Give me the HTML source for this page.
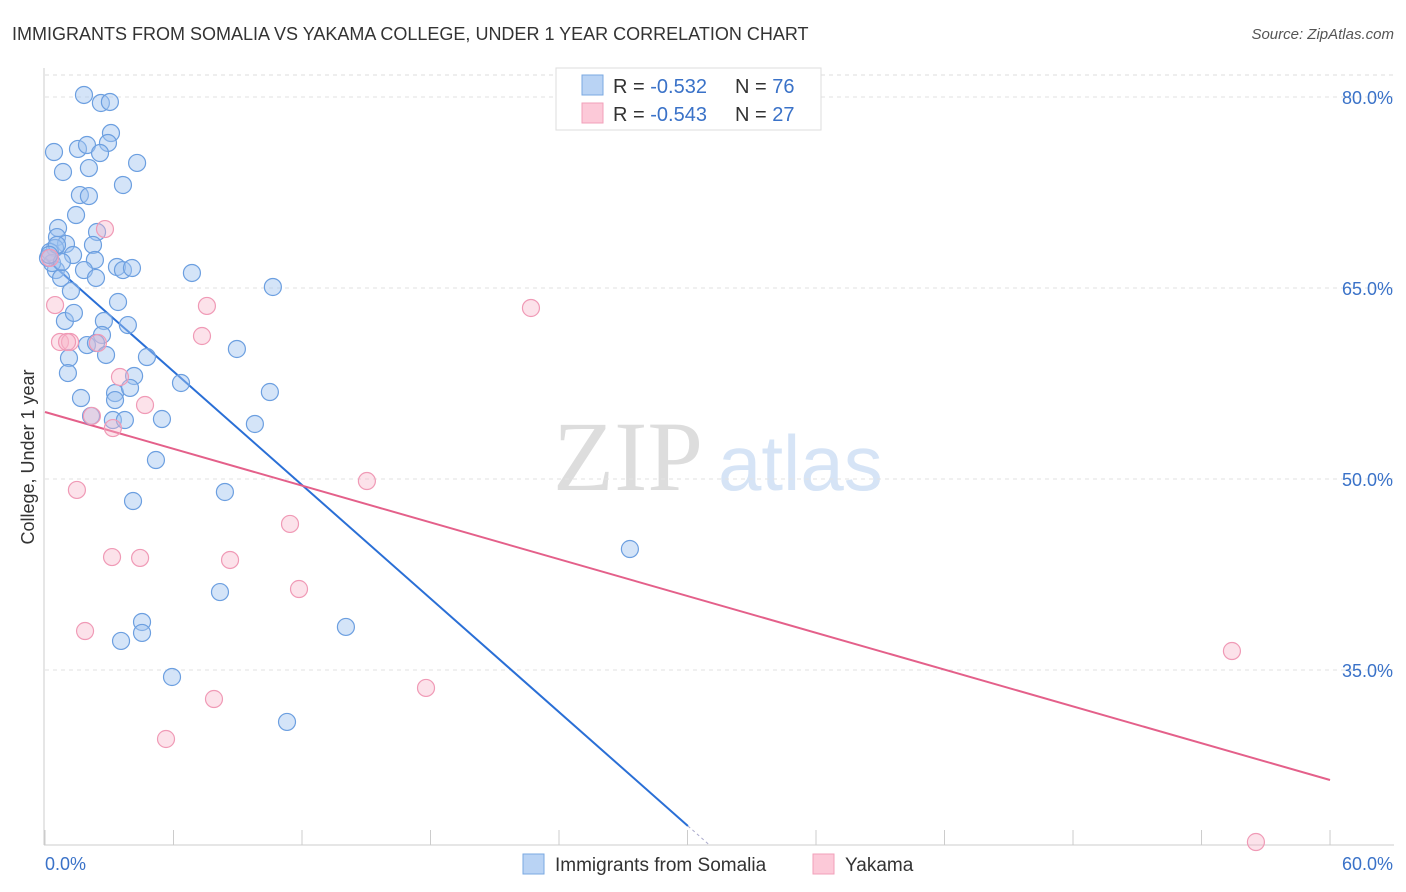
<!DOCTYPE html>
<html><head><meta charset="utf-8"><style>
body{margin:0;background:#fff;font-family:"Liberation Sans",sans-serif}
</style></head><body>
<svg id="chart" width="1406" height="892" xmlns="http://www.w3.org/2000/svg" style="display:block">
<text x="12" y="40" font-size="18" fill="#333">IMMIGRANTS FROM SOMALIA VS YAKAMA COLLEGE, UNDER 1 YEAR CORRELATION CHART</text>
<text x="1394" y="39" font-size="15" fill="#555" text-anchor="end" font-style="italic">Source: ZipAtlas.com</text>
<g>
<text x="553" y="490" font-family="Liberation Serif,serif" font-size="100" fill="#ddd">ZIP</text>
<text x="718" y="490" font-size="78" fill="#d6e4f6">atlas</text>
</g>
<g id="grid"></g>
<g id="axes"></g>
<g id="trends"></g>
<g id="points"></g>
<text transform="translate(34,457) rotate(-90)" font-size="18" fill="#333" text-anchor="middle">College, Under 1 year</text>
<g>
<rect x="556" y="68" width="265" height="62" fill="#fff" stroke="#ddd"/>
<rect x="582" y="75" width="21" height="20" fill="#b9d3f4" stroke="#7aa8e2"/>
<rect x="582" y="103" width="21" height="20" fill="#fcc9d8" stroke="#f2a0ba"/>
<text x="613" y="93" font-size="20" fill="#333">R = <tspan fill="#3a72c8">-0.532</tspan><tspan x="735">N = </tspan><tspan fill="#3a72c8">76</tspan></text>
<text x="613" y="121" font-size="20" fill="#333">R = <tspan fill="#3a72c8">-0.543</tspan><tspan x="735">N = </tspan><tspan fill="#3a72c8">27</tspan></text>
</g>
<g>
<rect x="523" y="854" width="21" height="20" fill="#b9d3f4" stroke="#7aa8e2"/>
<text x="555" y="871" font-size="19" fill="#333">Immigrants from Somalia</text>
<rect x="813" y="854" width="21" height="20" fill="#fcc9d8" stroke="#f2a0ba"/>
<text x="845" y="871" font-size="19" fill="#333">Yakama</text>
</g>
</svg>
<script>
const blueX=[1.82,2.61,3.03,3.08,2.94,0.42,1.54,1.96,2.57,4.30,0.84,2.05,3.64,1.63,2.05,1.45,0.61,2.43,0.56,0.98,2.24,0.47,0.23,1.31,2.33,0.51,1.82,3.36,3.64,4.06,0.75,2.38,6.86,1.21,10.64,3.41,0.93,1.35,2.75,3.87,2.66,1.96,2.38,8.96,1.12,2.85,4.76,1.07,4.16,6.35,1.68,3.27,3.97,10.50,3.27,2.15,3.17,3.73,5.46,9.80,5.18,8.40,4.11,27.31,8.17,4.53,4.53,3.55,14.05,5.93,11.30,0.33,0.14,0.79,0.56,0.2];
const blueY=[80.16,79.53,79.61,77.17,76.39,75.68,75.92,76.23,75.60,74.82,74.11,74.42,73.09,72.30,72.22,70.73,69.71,69.40,69.00,68.46,68.38,68.14,67.83,67.59,67.20,66.41,66.41,66.65,66.41,66.57,65.79,65.79,66.18,64.76,65.08,63.90,62.41,63.04,62.41,62.09,61.31,60.52,60.68,60.21,59.50,59.74,59.58,58.32,58.09,57.54,56.36,56.75,57.15,56.83,56.20,54.95,54.63,54.63,54.71,54.32,51.49,48.98,48.27,44.50,41.12,38.77,37.91,37.28,38.38,34.45,30.92,66.96,67.36,67.04,68.38,67.6];
const pinkX=[2.80,0.47,7.56,22.69,7.33,0.70,1.17,2.47,3.50,4.67,2.19,3.17,1.49,15.03,11.44,3.13,4.44,8.64,11.86,1.87,7.89,17.79,5.65,55.42,56.54,1.03,0.23];
const pinkY=[69.63,63.66,63.59,63.43,61.23,60.76,60.76,60.68,58.01,55.81,54.95,54.00,49.14,49.84,46.47,43.87,43.80,43.64,41.36,38.06,32.72,33.59,29.58,36.49,21.49,60.76,67.36];
const yTicks=[80,65,50,35];
const yTickLabels=["80.0%","65.0%","50.0%","35.0%"];
const xTicks=[0,6,12,18,24,30,36,42,48,54,60];
const blueTrend=[67.36,-1.486];
const pinkTrend=[55.26,-0.4817];
const NS="http://www.w3.org/2000/svg";
const X=v=>45+v*21.417, Y=v=>97+(80-v)*12.733;
function mk(tag,attrs,parent){const e=document.createElementNS(NS,tag);for(const k in attrs)e.setAttribute(k,attrs[k]);document.getElementById(parent).appendChild(e);return e;}
const topLine=mk('line',{x1:45,x2:1394,y1:75,y2:75,stroke:'#ddd','stroke-dasharray':'4,4'},'grid');


yTicks.forEach((t,i)=>{
 const l=mk('line',{x1:45,x2:1394,y1:Y(t),y2:Y(t),stroke:'#e2e2e2','stroke-dasharray':'4,4'},'grid');
 
 
 const tx=mk('text',{x:1393,y:Y(t)+7,'font-size':18,fill:'#3a72c8','text-anchor':'end'},'axes');
 tx.textContent=yTickLabels[i];
 
 
});
const ya=mk('line',{x1:44,x2:44,y1:68,y2:845,stroke:'#ccc'},'axes');


const xa=mk('line',{x1:44,x2:1394,y1:845,y2:845,stroke:'#ccc'},'axes');


xTicks.forEach(t=>{
 const l=mk('line',{x1:X(t),x2:X(t),y1:830,y2:845,stroke:'#ccc'},'axes');
 
 
});
const xl0=mk('text',{x:45,y:870,'font-size':18,fill:'#3a72c8'},'axes');xl0.textContent='0.0%';


const xl1=mk('text',{x:1393,y:870,'font-size':18,fill:'#3a72c8','text-anchor':'end'},'axes');xl1.textContent='60.0%';


blueX.forEach((x,i)=>{
 const c=mk('circle',{cx:X(x),cy:Y(blueY[i]),r:8.5,fill:'rgba(160,196,240,0.45)',stroke:'#6c9fe0','stroke-width':1.2},'points');
 
 
});
pinkX.forEach((x,i)=>{
 const c=mk('circle',{cx:X(x),cy:Y(pinkY[i]),r:8.5,fill:'rgba(248,182,202,0.4)',stroke:'#f09ab6','stroke-width':1.2},'points');
 
 
});
const bEnd=30.02, bDash=31.05;
const bl=mk('line',{x1:X(0),y1:Y(blueTrend[0]),x2:X(bEnd),y2:Y(blueTrend[0]+blueTrend[1]*bEnd),stroke:'#2a6fd6','stroke-width':2},'trends');


const bd=mk('line',{x1:X(bEnd),y1:Y(blueTrend[0]+blueTrend[1]*bEnd),x2:X(bDash),y2:Y(blueTrend[0]+blueTrend[1]*bDash),stroke:'#aac','stroke-width':1,'stroke-dasharray':'3,3'},'trends');


const pl=mk('line',{x1:X(0),y1:Y(pinkTrend[0]),x2:X(60),y2:Y(pinkTrend[0]+pinkTrend[1]*60),stroke:'#e4608a','stroke-width':2},'trends');


</script>
</body></html>
